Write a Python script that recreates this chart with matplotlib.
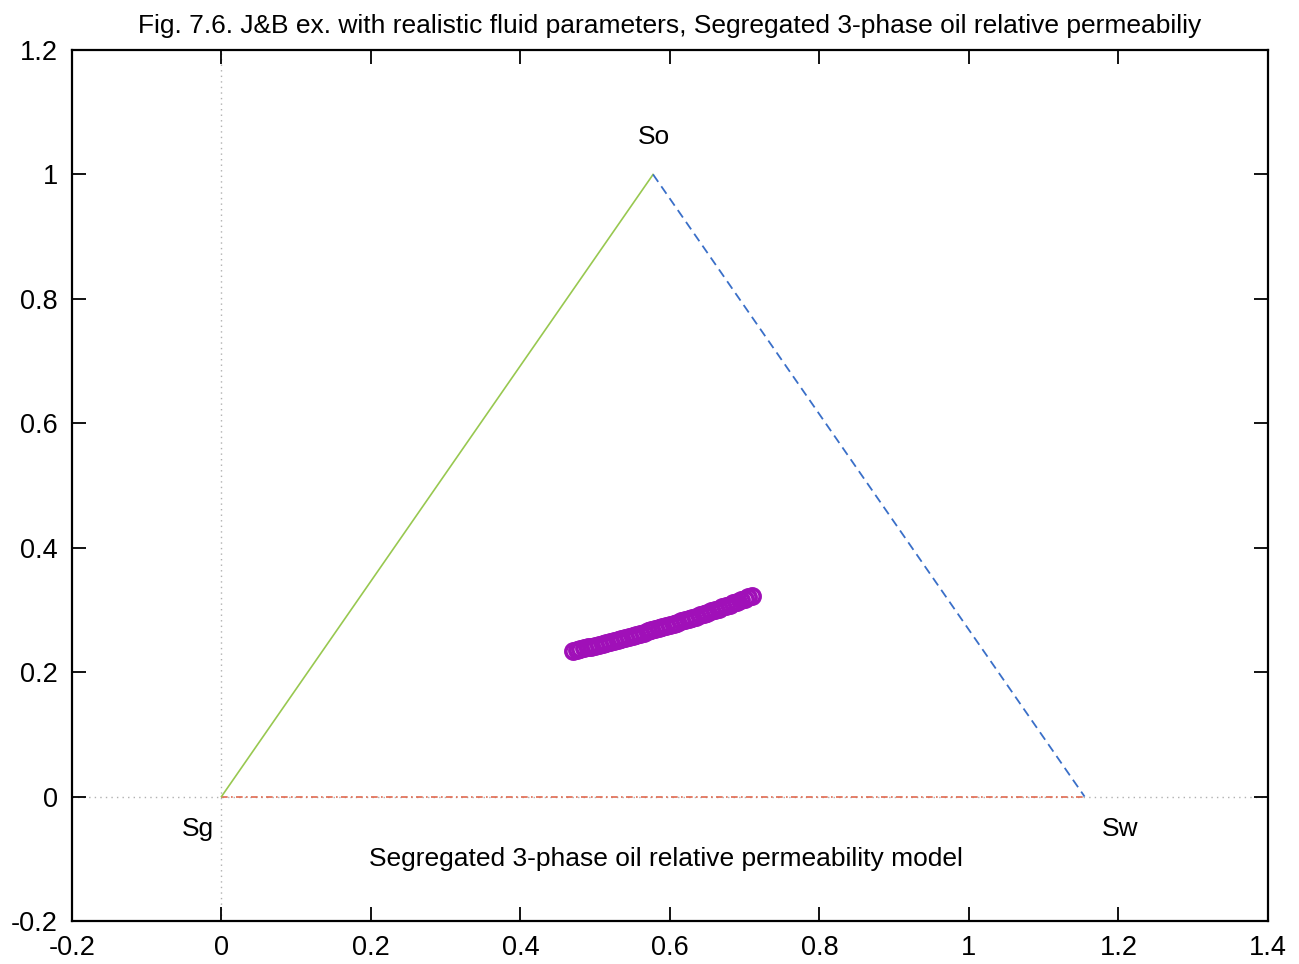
import numpy as np
import matplotlib
matplotlib.use("Agg")
import matplotlib.pyplot as plt

plt.rcParams['font.family'] = ['Liberation Sans', 'DejaVu Sans']

# Ternary triangle vertices (Sg, So, Sw) in Cartesian coordinates
tri_x = [0.0, 0.5774, 1.1547]
tri_y = [0.0, 1.0, 0.0]

# Saturation path points
path_x = [0.470, 0.475, 0.480, 0.485, 0.490, 0.495, 0.500, 0.505, 0.510, 0.515,
          0.520, 0.525, 0.530, 0.535, 0.540, 0.545, 0.550, 0.555, 0.560, 0.565,
          0.570, 0.575, 0.580, 0.585, 0.590, 0.595, 0.600, 0.605, 0.610, 0.615,
          0.620, 0.625, 0.630, 0.635, 0.640, 0.645, 0.650, 0.655, 0.660, 0.665,
          0.670, 0.675, 0.680, 0.685, 0.690, 0.695, 0.700, 0.705, 0.710]
path_y = [0.2337, 0.2352, 0.2367, 0.2382, 0.2397, 0.2412, 0.2427, 0.2443, 0.2458, 0.2474,
          0.2490, 0.2506, 0.2522, 0.2538, 0.2554, 0.2570, 0.2587, 0.2603, 0.2620, 0.2637,
          0.2654, 0.2671, 0.2688, 0.2705, 0.2723, 0.2741, 0.2759, 0.2777, 0.2796, 0.2815,
          0.2834, 0.2853, 0.2873, 0.2893, 0.2913, 0.2934, 0.2955, 0.2976, 0.2998, 0.3020,
          0.3042, 0.3064, 0.3087, 0.3110, 0.3133, 0.3156, 0.3180, 0.3204, 0.3228]

x_ticks = [-0.2, 0, 0.2, 0.4, 0.6, 0.8, 1, 1.2, 1.4]
y_ticks = [-0.2, 0, 0.2, 0.4, 0.6, 0.8, 1, 1.2]

fig = plt.figure(figsize=(12.99, 9.64), dpi=100)
ax = fig.add_axes([0.0554, 0.0446, 0.9207, 0.9035])
ax.set_xlim(-0.2, 1.4)
ax.set_ylim(-0.2, 1.2)

# zero axes
ax.axhline(0, color='#b0b0b0', lw=1.0, ls=(0, (1, 3)), zorder=1)
ax.axvline(0, color='#b0b0b0', lw=1.0, ls=(0, (1, 3)), zorder=1)

# triangle edges
ax.plot([tri_x[0], tri_x[2]], [tri_y[0], tri_y[2]], color='#e06a50', lw=1.2,
        ls=(0, (4, 2, 1, 2)), zorder=2)
ax.plot([tri_x[0], tri_x[1]], [tri_y[0], tri_y[1]], color='#98c850', lw=1.2, zorder=2)
ax.plot([tri_x[1], tri_x[2]], [tri_y[1], tri_y[2]], color='#3a6fc8', lw=1.3,
        ls=(0, (5, 3)), zorder=2)

# saturation path
ax.plot(path_x, path_y, ls='none', marker='o', ms=11, mfc='none',
        mec='#a010b8', mew=2.6, zorder=3)

# vertex labels
ax.text(0.5786, 1.061, 'So', fontsize=19, ha='center', va='center')
ax.text(-0.0314, -0.0514, 'Sg', fontsize=19, ha='center', va='center')
ax.text(1.202, -0.0514, 'Sw', fontsize=19, ha='center', va='center')
ax.text(0.5947, -0.101, 'Segregated 3-phase oil relative permeability model',
        fontsize=19, ha='center', va='center')

ax.set_title('Fig. 7.6. J&B ex. with realistic fluid parameters, Segregated 3-phase oil relative permeabiliy',
             fontsize=19, pad=12)

ax.set_xticks(x_ticks)
ax.set_yticks(y_ticks)
ax.set_xticklabels(['-0.2', '0', '0.2', '0.4', '0.6', '0.8', '1', '1.2', '1.4'])
ax.set_yticklabels(['-0.2', '0', '0.2', '0.4', '0.6', '0.8', '1', '1.2'])
ax.tick_params(direction='in', length=10, width=1.3, labelsize=19.5,
               top=True, right=True)
ax.tick_params(axis='y', pad=10)
ax.tick_params(axis='x', pad=10)
for s in ax.spines.values():
    s.set_linewidth(1.6)

fig.savefig('out.png', dpi=100)
